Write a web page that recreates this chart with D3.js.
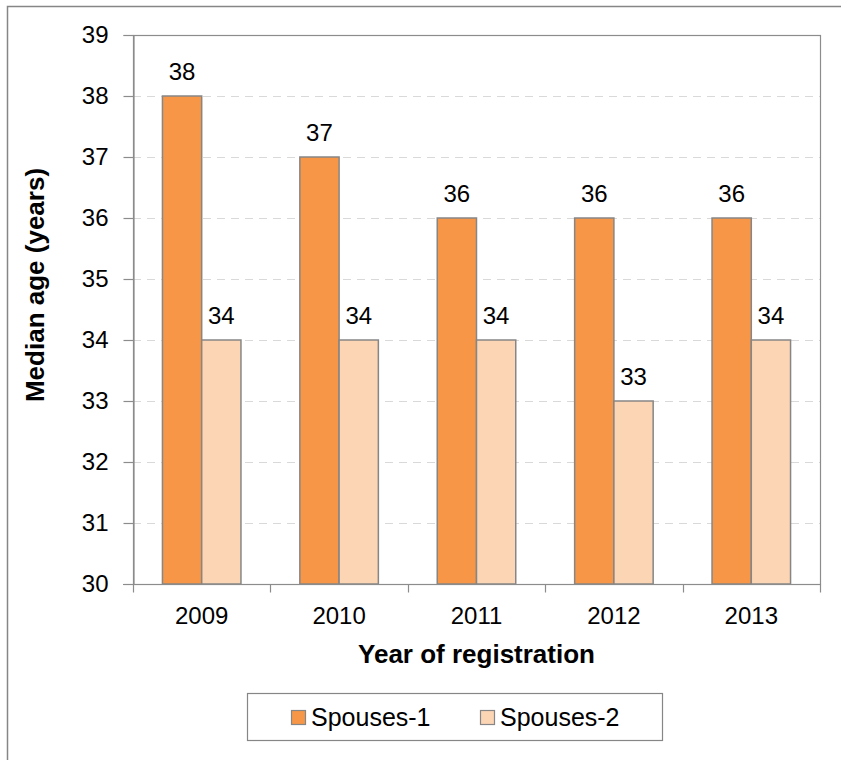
<!DOCTYPE html>
<html>
<head>
<meta charset="utf-8">
<script src="https://cdn.jsdelivr.net/npm/d3@7"></script>
<style>
  body { margin: 0; background: #fff; }
  svg { display: block; font-family: "Liberation Sans", Arial, sans-serif; }
</style>
</head>
<body>
<svg id="chart" width="841" height="760"></svg>
<script>
// Median age of spouses by year of registration
const years = ["2009", "2010", "2011", "2012", "2013"];
const seriesNames = ["Spouses-1", "Spouses-2"];
const spouses1 = [38, 37, 36, 36, 36];
const spouses2 = [34, 34, 34, 33, 34];
const yTicks = [30, 31, 32, 33, 34, 35, 36, 37, 38, 39];

const colors = ["#F79646", "#FCD5B5"];
const seriesValues = [spouses1, spouses2];
const FONT = "Liberation Sans, Arial, sans-serif";
const LABEL_SIZE = 24;
const TITLE_SIZE = 26;

const svg = d3.select("#chart");

// Chart frame (only top and left edges fall inside the canvas)
svg.append("rect")
  .attr("x", 7.5).attr("y", 6.5)
  .attr("width", 900).attr("height", 900)
  .attr("fill", "#fff")
  .attr("stroke", "#868686").attr("stroke-width", 1.5);

const plot = { left: 133, right: 820, top: 35, bottom: 584 };

const x = d3.scaleBand()
  .domain(years)
  .range([plot.left, plot.right])
  .paddingInner(0).paddingOuter(0);

const y = d3.scaleLinear()
  .domain([30, 39])
  .range([plot.bottom, plot.top]);

// Bar width: gap between clusters is 150% of a bar
const barW = x.bandwidth() / 3.5;

// Dashed horizontal gridlines
svg.append("g")
  .selectAll("line")
  .data(yTicks.filter(t => t > 30 && t < 39))
  .join("line")
  .attr("x1", plot.left).attr("x2", plot.right)
  .attr("y1", d => Math.round(y(d)) + 0.5).attr("y2", d => Math.round(y(d)) + 0.5)
  .attr("stroke", "#D9D9D9").attr("stroke-width", 1.2)
  .attr("stroke-dasharray", "8,6");

// Plot area border
svg.append("rect")
  .attr("x", plot.left + 0.5).attr("y", plot.top + 0.5)
  .attr("width", plot.right - plot.left).attr("height", plot.bottom - plot.top)
  .attr("fill", "none").attr("stroke", "#8C8C8C").attr("stroke-width", 1.2);

// Bars and value labels
seriesValues.forEach((vals, si) => {
  svg.append("g")
    .selectAll("rect")
    .data(years)
    .join("rect")
    .attr("x", (d, i) => x(d) + x.bandwidth() / 2 - barW + si * barW)
    .attr("y", (d, i) => y(vals[i]))
    .attr("width", barW)
    .attr("height", (d, i) => y(30) - y(vals[i]))
    .attr("fill", colors[si])
    .attr("stroke", "#868686").attr("stroke-width", 1.5);

  svg.append("g")
    .selectAll("text")
    .data(years)
    .join("text")
    .attr("x", (d, i) => x(d) + x.bandwidth() / 2 - barW / 2 + si * barW)
    .attr("y", (d, i) => y(vals[i]) - 16)
    .attr("text-anchor", "middle")
    .attr("font-size", LABEL_SIZE)
    .attr("fill", "#000")
    .text((d, i) => vals[i]);
});

// Y axis
const yAxis = d3.axisLeft(y).tickValues(yTicks).tickSize(10).tickPadding(15)
  .tickFormat(d3.format("d"));
const gy = svg.append("g")
  .attr("transform", `translate(${plot.left + 0.5},0)`)
  .call(yAxis);
gy.select(".domain").attr("stroke", "#8C8C8C").attr("stroke-width", 1.2);
gy.selectAll(".tick line").attr("stroke", "#8C8C8C").attr("stroke-width", 1.2);
gy.selectAll(".tick text").attr("font-size", LABEL_SIZE).attr("fill", "#000")
  .attr("font-family", FONT);

// X axis with ticks at category boundaries
const gx = svg.append("g")
  .attr("transform", `translate(0,${plot.bottom + 0.5})`);
gx.append("line")
  .attr("x1", plot.left - 10).attr("x2", plot.right)
  .attr("stroke", "#8C8C8C").attr("stroke-width", 1.2);
gx.selectAll("line.tick")
  .data(years.map(d => x(d)).concat([plot.right]))
  .join("line")
  .attr("class", "tick")
  .attr("x1", d => Math.round(d) + 0.5).attr("x2", d => Math.round(d) + 0.5)
  .attr("y1", 0).attr("y2", 8)
  .attr("stroke", "#8C8C8C").attr("stroke-width", 1.2);
gx.selectAll("text")
  .data(years)
  .join("text")
  .attr("x", d => x(d) + x.bandwidth() / 2)
  .attr("y", 39)
  .attr("text-anchor", "middle")
  .attr("font-size", LABEL_SIZE)
  .text(d => d);

// Axis titles
svg.append("text")
  .attr("x", (plot.left + plot.right) / 2)
  .attr("y", 663)
  .attr("text-anchor", "middle")
  .attr("font-size", TITLE_SIZE).attr("font-weight", "bold")
  .text("Year of registration");

svg.append("text")
  .attr("transform", "translate(44,285) rotate(-90)")
  .attr("text-anchor", "middle")
  .attr("font-size", TITLE_SIZE).attr("font-weight", "bold")
  .text("Median age (years)");

// Legend
const legend = svg.append("g");
legend.append("rect")
  .attr("x", 247.5).attr("y", 693.5)
  .attr("width", 415).attr("height", 47)
  .attr("fill", "#fff").attr("stroke", "#868686").attr("stroke-width", 1.2);
const legendX = [291, 480];
seriesNames.forEach((name, i) => {
  legend.append("rect")
    .attr("x", legendX[i] + 0.5).attr("y", 710.5)
    .attr("width", 14).attr("height", 14)
    .attr("fill", colors[i]).attr("stroke", "#868686").attr("stroke-width", 1.2);
  legend.append("text")
    .attr("x", legendX[i] + 20).attr("y", 726)
    .attr("font-size", 25)
    .text(name);
});
</script>
</body>
</html>
